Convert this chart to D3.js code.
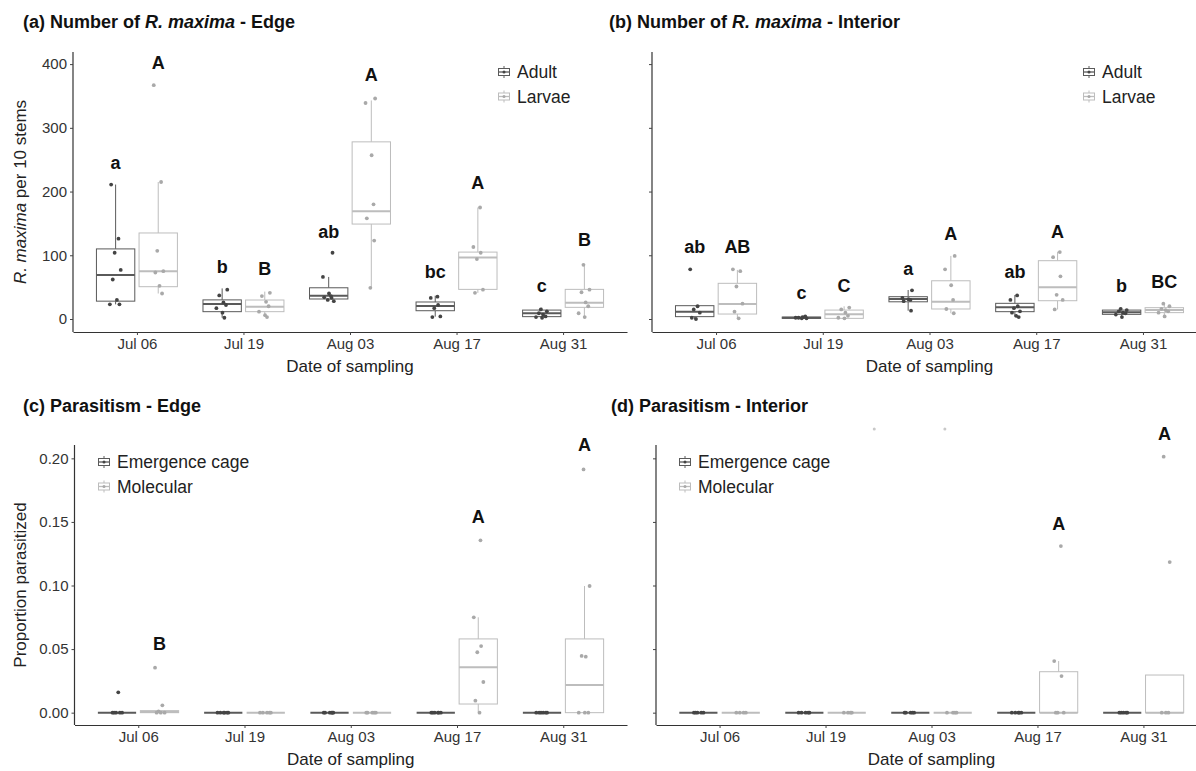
<!DOCTYPE html>
<html>
<head>
<meta charset="utf-8">
<script src="https://cdnjs.cloudflare.com/ajax/libs/d3/7.8.5/d3.min.js"></script>
<style>
  body { margin: 0; background: #fff; }
  svg { display: block; font-family: 'Liberation Sans', Arial, Helvetica, sans-serif; }
</style>
</head>
<body>
<div id="chart"></div>
<script>
const dates = ['Jul 06', 'Jul 19', 'Aug 03', 'Aug 17', 'Aug 31'];

// box summaries: [lower whisker, Q1, median, Q3, upper whisker]
const edgeAdultBox = [[23, 28, 69, 110, 211], [2, 11.5, 23.5, 30, 48], [28.7, 31.4, 36.6, 49, 66], [3.7, 13, 20.4, 26.7, 36.6], [2, 3.7, 8.9, 14, 17.8]];
const edgeLarvaeBox = [[40, 50.7, 75, 135, 215], [3.7, 11.5, 19.3, 29.8, 43], [49, 149, 169, 278, 343], [41, 46.5, 96.7, 105, 175], [3.7, 18.3, 25.6, 46.5, 85.8]];
const edgeAdultPts = [[211, 126, 104, 77, 62, 30, 23, 23], [46, 37, 26, 22, 17, 10, 2], [104, 66, 40, 36, 34, 33, 30, 28], [35, 33, 22, 17, 4, 3], [15, 12, 9, 7, 4, 3, 2]];
const edgeLarvaePts = [[367, 215, 107, 75, 73, 52, 40], [41, 36, 27, 20, 11.5, 6, 3], [346, 339, 257, 180, 158, 123, 49], [175, 113, 104, 94, 46, 41], [85, 46, 42, 26, 20, 9, 3]];
const edgeAdultLetters = ['a', 'b', 'ab', 'bc', 'c'];
const edgeAdultLetterY = [246, 83, 138, 74, 52];
const edgeLarvaeLetters = ['A', 'B', 'A', 'A', 'B'];
const edgeLarvaeLetterY = [403, 79.5, 383, 214, 125];

const intAdultBox = [[0, 3.7, 11.5, 20.9, 20.9], [0, 1, 2, 3, 5], [13, 27, 31.4, 35, 45.5], [3.7, 11.5, 18.3, 24.6, 37.6], [2, 7.3, 10.5, 14, 17.8]];
const intLarvaeBox = [[1, 7.8, 23.5, 56, 77], [1, 1, 7.3, 14, 20], [9, 15.7, 27, 60, 99], [15, 28.7, 49.7, 91.5, 105.6], [3.7, 10, 14, 17.8, 24.6]];
const intAdultPts = [[78, 20, 15, 10, 2, 0], [1, 2, 3, 4, 2, 1], [45, 33, 31, 30, 28, 13], [37, 30, 20, 17, 12, 10, 5, 3], [16, 14, 12, 10, 9, 7, 3]];
const intLarvaePts = [[78, 75, 51, 24, 11.5, 1], [18, 15, 10, 5, 2, 1], [99, 78, 53, 30, 15.7, 9], [105, 97, 67, 38, 30, 15], [24, 20, 16, 14, 12, 10, 4]];
const intAdultLetters = ['ab', 'c', 'a', 'ab', 'b'];
const intAdultLetterY = [114.5, 41, 79.5, 74, 53];
const intLarvaeLetters = ['AB', 'C', 'A', 'A', 'BC'];
const intLarvaeLetterY = [114.5, 52, 134, 137, 58.5];

const zeroBox = [0, 0, 0, 0, 0];
const edgeCageBox = [zeroBox, zeroBox, zeroBox, zeroBox, zeroBox];
const edgeMolBox = [[0, 0, 0.0005, 0.0016, 0.0016], zeroBox, zeroBox, [0, 0.0068, 0.0357, 0.058, 0.075], [0, 0, 0.0218, 0.058, 0.0996]];
const edgeCagePts = [[0, 0, 0, 0, 0, 0.016], [0, 0, 0, 0, 0, 0], [0, 0, 0, 0, 0, 0], [0, 0, 0, 0, 0, 0], [0, 0, 0, 0, 0, 0]];
const edgeMolPts = [[0.0354, 0.0058, 0.001, 0, 0, 0], [0, 0, 0, 0, 0], [0, 0, 0, 0, 0], [0.1355, 0.075, 0.0524, 0.0475, 0.0241, 0.0094, 0], [0.1913, 0.0996, 0.0446, 0.044, 0, 0, 0]];
const edgeMolLetters = ['B', '', '', 'A', 'A'];
const edgeMolLetterY = [0.0546, 0, 0, 0.154, 0.2105];

const intCageBox = [zeroBox, zeroBox, zeroBox, zeroBox, zeroBox];
const intMolBox = [zeroBox, zeroBox, zeroBox, [0, 0, 0, 0.0322, 0.0406], [0, 0, 0, 0.0296, 0.0296]];
const intCagePts = [[0, 0, 0, 0, 0], [0, 0, 0, 0, 0], [0, 0, 0, 0, 0], [0, 0, 0, 0, 0], [0, 0, 0, 0, 0]];
const intMolPts = [[0, 0, 0, 0], [0, 0, 0, 0], [0, 0, 0, 0], [0.131, 0.0406, 0.0288, 0, 0, 0], [0.2013, 0.1184, 0, 0, 0]];
const intMolLetters = ['', '', '', 'A', 'A'];
const intMolLetterY = [0, 0, 0, 0.149, 0.2196];
// two faint dots above panel (d)
const intStrayDates = ['Jul 19', 'Aug 03'];
const intStrayValues = [0.223, 0.223];

const countTicks = [0, 100, 200, 300, 400];
const propTicks = [0, 0.05, 0.1, 0.15, 0.2];

const dark = { stroke: '#5a5a5a', point: '#444444' };
const light = { stroke: '#bdbdbd', point: '#a9a9a9' };
const jitterPattern = [-0.7, 0.45, -0.15, 0.8, -0.45, 0.2, 0.6, -0.9, 0.05, 0.35];

const width = 1196;
const height = 771;

const svg = d3
  .select('#chart')
  .append('svg')
  .attr('width', width)
  .attr('height', height)
  .attr('viewBox', [0, 0, width, height]);

svg.append('rect').attr('width', width).attr('height', height).attr('fill', '#fff');

function legendKey(g, cx, cy, col) {
  g.append('line').attr('x1', cx).attr('x2', cx).attr('y1', cy - 6).attr('y2', cy + 6)
    .attr('stroke', col.stroke).attr('stroke-width', 1);
  g.append('rect').attr('x', cx - 5.5).attr('y', cy - 3.5).attr('width', 11).attr('height', 7)
    .attr('fill', '#fff').attr('stroke', col.stroke).attr('stroke-width', 1);
  g.append('line').attr('x1', cx - 5.5).attr('x2', cx + 5.5).attr('y1', cy).attr('y2', cy)
    .attr('stroke', col.stroke).attr('stroke-width', 1.3);
  g.append('circle').attr('cx', cx).attr('cy', cy).attr('r', 1.5).attr('fill', col.point);
}

function drawPanel(p) {
  const g = svg.append('g');

  const x = d3.scalePoint().domain(dates).range([p.left, p.right]).padding(0.6);
  const y = d3.scaleLinear().domain(p.yDomain).range([p.bottom, p.top]);
  const step = x.step();
  const boxW = step * 0.36;
  const dodge = step * 0.2;

  // axes
  const gx = g.append('g').attr('transform', `translate(0,${p.bottom})`)
    .call(d3.axisBottom(x).tickSizeInner(3).tickSizeOuter(0).tickPadding(3));
  const gy = g.append('g').attr('transform', `translate(${p.left},0)`)
    .call(d3.axisLeft(y).tickValues(p.ticks).tickSizeInner(3).tickSizeOuter(0).tickPadding(3)
      .tickFormat(p.tickFormat || (() => '')));
  [gx, gy].forEach((a) => {
    a.select('.domain').attr('stroke', '#333').attr('stroke-width', 1.2);
    a.selectAll('.tick line').attr('stroke', '#444');
    a.selectAll('.tick text').attr('fill', '#333').style('font-size', '15px')
      .style('font-family', "'Liberation Sans', Arial, sans-serif");
  });
  gy.select('.domain').attr('d', `M0,${p.bottom}V${p.top}`);

  p.series.forEach((s, si) => {
    const off = si === 0 ? -dodge : dodge;
    const cx = (i) => x(dates[i]) + off;
    const sg = g.append('g');
    const boxes = s.box.map((b, i) => ({ b, i }));

    sg.selectAll('.whisker').data(boxes).join('g').each(function (d) {
      const w = d3.select(this);
      w.append('line').attr('x1', cx(d.i)).attr('x2', cx(d.i))
        .attr('y1', y(d.b[3])).attr('y2', y(d.b[4]));
      w.append('line').attr('x1', cx(d.i)).attr('x2', cx(d.i))
        .attr('y1', y(d.b[1])).attr('y2', y(d.b[0]));
    }).attr('stroke', s.col.stroke).attr('stroke-width', 1);

    sg.selectAll('rect').data(boxes).join('rect')
      .attr('x', (d) => cx(d.i) - boxW / 2)
      .attr('width', boxW)
      .attr('y', (d) => y(d.b[3]))
      .attr('height', (d) => Math.max(0, y(d.b[1]) - y(d.b[3])))
      .attr('fill', '#fff')
      .attr('stroke', s.col.stroke)
      .attr('stroke-width', 1);

    sg.selectAll('.median').data(boxes).join('line')
      .attr('x1', (d) => cx(d.i) - boxW / 2)
      .attr('x2', (d) => cx(d.i) + boxW / 2)
      .attr('y1', (d) => y(d.b[2]))
      .attr('y2', (d) => y(d.b[2]))
      .attr('stroke', s.col.stroke)
      .attr('stroke-width', 2);

    const pts = [];
    s.pts.forEach((arr, i) => arr.forEach((v, j) => pts.push({ i, v, j })));
    sg.selectAll('circle').data(pts).join('circle')
      .attr('cx', (d) => cx(d.i) + jitterPattern[(d.j + d.i * 3) % jitterPattern.length] * step * 0.06)
      .attr('cy', (d) => y(d.v))
      .attr('r', 1.9)
      .attr('fill', s.col.point);

    if (s.letters) {
      const lets = s.letters.map((t, i) => ({ t, i, v: s.letterY[i] })).filter((d) => d.t);
      g.selectAll(null).data(lets).join('text')
        .attr('x', (d) => cx(d.i))
        .attr('y', (d) => y(d.v))
        .attr('dy', '0.36em')
        .attr('text-anchor', 'middle')
        .attr('font-weight', 'bold')
        .attr('font-size', 18)
        .attr('fill', '#111')
        .text((d) => d.t);
    }
  });

  if (p.stray) {
    g.selectAll(null).data(p.stray.dates).join('circle')
      .attr('cx', (d, i) => x(d) + p.stray.shift[i] * step)
      .attr('cy', (d, i) => y(p.stray.values[i]))
      .attr('r', 1.5)
      .attr('fill', '#c8c8c8');
  }

  // title
  const t = svg.append('text').attr('x', p.titleX).attr('y', p.titleY)
    .attr('font-weight', 'bold').attr('font-size', 18).attr('fill', '#111');
  p.title.forEach(([txt, it]) => t.append('tspan').attr('font-style', it ? 'italic' : 'normal').text(txt));

  // x title
  svg.append('text').attr('x', (p.left + p.right) / 2).attr('y', p.bottom + 40)
    .attr('text-anchor', 'middle').attr('font-size', 17).attr('fill', '#222')
    .text('Date of sampling');

  // y title
  if (p.yTitle) {
    const yt = svg.append('text')
      .attr('transform', `translate(26,${(p.top + p.bottom) / 2}) rotate(-90)`)
      .attr('text-anchor', 'middle').attr('font-size', 17).attr('fill', '#222');
    p.yTitle.forEach(([txt, it]) => yt.append('tspan').attr('font-style', it ? 'italic' : 'normal').text(txt));
  }

  // legend
  const lg = svg.append('g');
  p.legend.labels.forEach((lab, i) => {
    const ly = p.legend.y + i * 24.5;
    legendKey(lg, p.legend.x, ly, p.series[i].col);
    lg.append('text').attr('x', p.legend.x + 13).attr('y', ly).attr('dy', '0.35em')
      .attr('font-size', 17.5).attr('fill', '#222').text(lab);
  });
}

const countDomain = [-20.4, 419];
const propDomain = [-0.0097, 0.2105];

drawPanel({
  left: 73, right: 627, top: 52, bottom: 332,
  yDomain: countDomain, ticks: countTicks, tickFormat: d3.format('d'),
  title: [['(a) Number of ', false], ['R. maxima', true], [' - Edge', false]],
  titleX: 23, titleY: 28,
  yTitle: [['R. maxima', true], [' per 10 stems', false]],
  legend: { x: 504, y: 72, labels: ['Adult', 'Larvae'] },
  series: [
    { box: edgeAdultBox, pts: edgeAdultPts, col: dark, letters: edgeAdultLetters, letterY: edgeAdultLetterY },
    { box: edgeLarvaeBox, pts: edgeLarvaePts, col: light, letters: edgeLarvaeLetters, letterY: edgeLarvaeLetterY },
  ],
});

drawPanel({
  left: 652, right: 1207, top: 52, bottom: 332,
  yDomain: countDomain, ticks: countTicks, tickFormat: null,
  title: [['(b) Number of ', false], ['R. maxima', true], [' - Interior', false]],
  titleX: 609, titleY: 28,
  legend: { x: 1089, y: 72, labels: ['Adult', 'Larvae'] },
  series: [
    { box: intAdultBox, pts: intAdultPts, col: dark, letters: intAdultLetters, letterY: intAdultLetterY },
    { box: intLarvaeBox, pts: intLarvaePts, col: light, letters: intLarvaeLetters, letterY: intLarvaeLetterY },
  ],
});

drawPanel({
  left: 74.5, right: 627, top: 445, bottom: 725,
  yDomain: propDomain, ticks: propTicks, tickFormat: d3.format('.2f'),
  title: [['(c) Parasitism - Edge', false]],
  titleX: 23, titleY: 412,
  yTitle: [['Proportion parasitized', false]],
  legend: { x: 104, y: 462, labels: ['Emergence cage', 'Molecular'] },
  series: [
    { box: edgeCageBox, pts: edgeCagePts, col: dark },
    { box: edgeMolBox, pts: edgeMolPts, col: light, letters: edgeMolLetters, letterY: edgeMolLetterY },
  ],
});

drawPanel({
  left: 656, right: 1207, top: 445, bottom: 725,
  yDomain: propDomain, ticks: propTicks, tickFormat: null,
  title: [['(d) Parasitism - Interior', false]],
  titleX: 611, titleY: 412,
  legend: { x: 685, y: 462, labels: ['Emergence cage', 'Molecular'] },
  stray: { dates: intStrayDates, values: intStrayValues, shift: [0.46, 0.126] },
  series: [
    { box: intCageBox, pts: intCagePts, col: dark },
    { box: intMolBox, pts: intMolPts, col: light, letters: intMolLetters, letterY: intMolLetterY },
  ],
});
</script>
</body>
</html>
